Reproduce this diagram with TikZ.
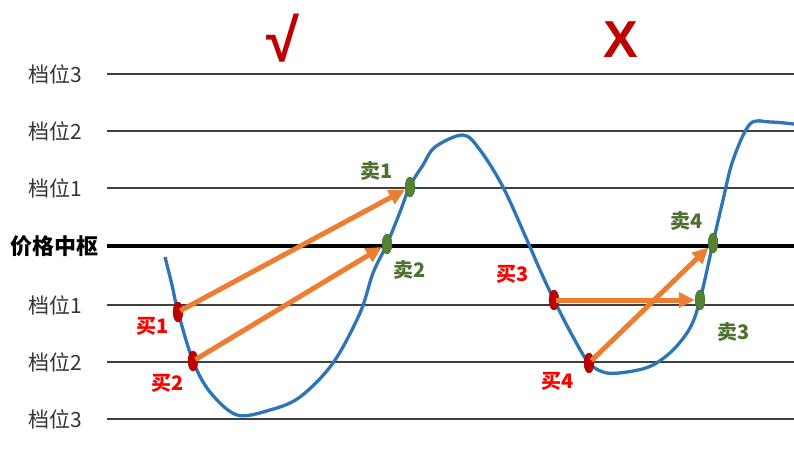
\documentclass[tikz,border=0pt]{standalone}
\usepackage{fontspec}
\setmainfont{Noto Sans CJK SC}
\newfontfamily\titlefont{Liberation Sans}
\usetikzlibrary{shapes.geometric,arrows.meta}
\definecolor{curveblue}{HTML}{2E75B6}
\definecolor{arroworange}{HTML}{ED7D31}
\definecolor{buyred}{HTML}{C00000}
\definecolor{sellgreen}{HTML}{548235}
\definecolor{sellword}{HTML}{4E7030}

\begin{document}
\begin{tikzpicture}[
      x=1pt, y=-1pt,
      every node/.style={font=\fontsize{21}{23}\selectfont},
      lvl/.style={text=black!80},
      grid/.style={draw=black!75, line width=1.6pt},
      mid/.style={draw=black, line width=3.6pt},
      buy/.style={ellipse, fill=buyred, draw=buyred!80!black, inner sep=0pt,
                  minimum width=10pt, minimum height=20pt},
      sell/.style={ellipse, fill=sellgreen, draw=sellgreen!80!black, inner sep=0pt,
                   minimum width=10pt, minimum height=20pt},
      buytxt/.style={text=red, font=\fontsize{20}{22}\selectfont\bfseries},
      selltxt/.style={text=sellword, font=\fontsize{20}{22}\selectfont\bfseries},
      titlemark/.style={text=buyred, font=\titlefont\fontsize{52}{54}\selectfont\bfseries},
      flow/.style={-{Triangle[length=16pt,width=15pt]}, draw=arroworange,
                   line width=5pt, shorten <=-3pt}
    ]
    \useasboundingbox (0,0) rectangle (794,471);

    % Titles
    \node[titlemark, font=\titlefont\fontsize{60}{62}\selectfont\bfseries] (ok) at (283,38) {√};
    \node[titlemark] (no) at (621,40) {X};

    % Levels
    \foreach \y/\t in {74/档位3, 131/档位2, 188/档位1, 305/档位1, 362/档位2, 419/档位3}{
      \node[lvl] at (55,\y) {\t};
      \draw[grid] (107,\y) -- (794,\y);
    }
    \node[font=\fontsize{22}{24}\selectfont\bfseries] (pivot) at (54,246) {价格中枢};
    \draw[mid] (107,246) -- (794,246);

    % Price curve
    \draw[curveblue, line width=3.3pt, line join=round]
      plot[smooth, tension=0.55] coordinates {
        (165,257) (172,285) (178,312) (193,361) (210,392) (237,415)
        (270,410) (300,397) (333,363) (360,313) (373,273) (387,244)
        (400,212) (410,186) (423,165) (435,147) (463,135) (480,150)
        (503,187) (527,240) (540,270) (554,300) (572,335) (589,363)
        (607,373) (633,371) (653,365) (673,350) (690,328) (700,300)
        (713,243) (723,200) (733,160) (750,124) (770,122) (794,124)};

    % Buy / sell points
    \node[buy]  (b1) at (178,312) {};
    \node[buy]  (b2) at (193,361) {};
    \node[buy]  (b3) at (554,300) {};
    \node[buy]  (b4) at (589,363) {};
    \node[sell] (s1) at (410,187) {};
    \node[sell] (s2) at (387,244) {};
    \node[sell] (s3) at (700,300) {};
    \node[sell] (s4) at (713,243) {};

    % Labels
    \node[buytxt]  (lb1) at (153,326) {买1};
    \node[buytxt]  (lb2) at (168,383) {买2};
    \node[buytxt]  (lb3) at (513,274) {买3};
    \node[buytxt]  (lb4) at (558,381) {买4};
    \node[selltxt] (ls1) at (377,171) {卖1};
    \node[selltxt] (ls2) at (410,270) {卖2};
    \node[selltxt] (ls3) at (734,332) {卖3};
    \node[selltxt] (ls4) at (687,221) {卖4};

    % Trades
    \draw[flow] (b1) -- (s1);
    \draw[flow] (b2) -- (s2);
    \draw[flow] (b3) -- (s3);
    \draw[flow] (b4) -- (s4);
  \end{tikzpicture}
\end{document}
